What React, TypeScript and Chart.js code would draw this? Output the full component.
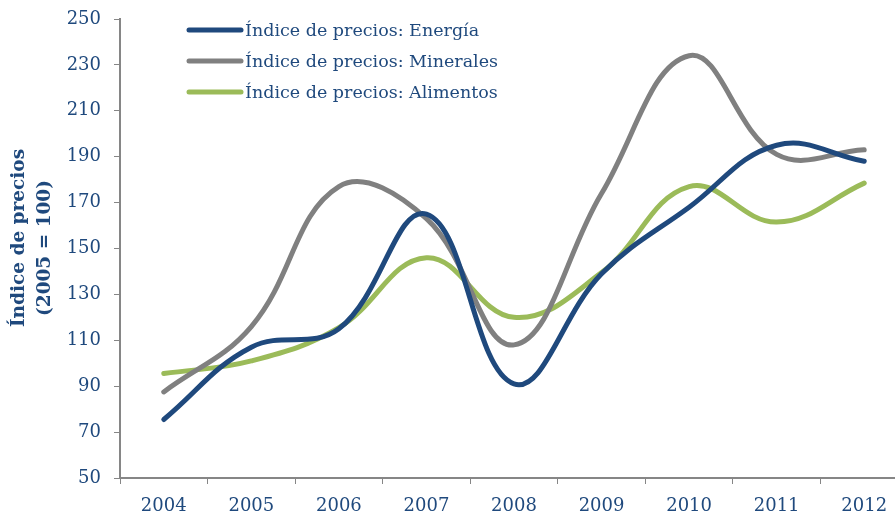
import React, { useEffect, useRef } from "react";
import { Chart, registerables } from "chart.js";

Chart.register(...registerables);

const years = ["2004", "2005", "2006", "2007", "2008", "2009", "2010", "2011", "2012"];
const energia = [75.5, 107, 115, 165, 91, 139, 168, 195, 188];
const minerales = [87.5, 116, 177, 163, 108, 174, 234, 191, 193];
const alimentos = [95.5, 101, 115.5, 146, 120, 139.5, 177, 161.5, 178.5];
const seriesLabels = [
  "Índice de precios: Energía",
  "Índice de precios: Minerales",
  "Índice de precios: Alimentos",
];
const yTitleLines = ["Índice de precios", "(2005 = 100)"];
const yMin = 50;
const yMax = 250;
const yStep = 20;

const TEXT = "#1F497D";
const AXIS = "#868686";
const FONT = "'DejaVu Serif', serif";
const COLORS = ["#1F497D", "#808080", "#9BBB59"];

const overlay = {
  id: "overlay",
  afterDraw(chart: any) {
    const ctx = chart.ctx;
    ctx.save();
    chart.data.datasets.forEach((ds: any, i: number) => {
      const y = 30 + i * 31;
      ctx.strokeStyle = ds.borderColor;
      ctx.lineWidth = 5;
      ctx.lineCap = "round";
      ctx.beginPath();
      ctx.moveTo(189, y);
      ctx.lineTo(241, y);
      ctx.stroke();
      ctx.fillStyle = TEXT;
      ctx.font = `17.5px ${FONT}`;
      ctx.textBaseline = "middle";
      ctx.textAlign = "left";
      ctx.fillText(ds.label, 245, y + 1);
    });
    ctx.rotate(-Math.PI / 2);
    ctx.font = `bold 18.5px ${FONT}`;
    ctx.textAlign = "center";
    ctx.textBaseline = "middle";
    ctx.fillStyle = TEXT;
    ctx.fillText(yTitleLines[0], -238, 19);
    ctx.fillText(yTitleLines[1], -248, 45);
    ctx.restore();
  },
};

export default function App() {
  const ref = useRef<HTMLCanvasElement | null>(null);
  useEffect(() => {
    if (!ref.current) return;
    const series = [energia, minerales, alimentos];
    const chart = new Chart(ref.current, {
      type: "line",
      data: {
        labels: years,
        datasets: series.map((d, i) => ({
          label: seriesLabels[i],
          data: d,
          borderColor: COLORS[i],
          backgroundColor: COLORS[i],
          borderWidth: 5,
          borderCapStyle: "round",
          pointRadius: 0,
          tension: 0.4,
          fill: false,
        })),
      },
      options: {
        responsive: false,
        animation: false,
        devicePixelRatio: 1,
        layout: { padding: { top: 19, right: 4, left: 0, bottom: 0 } },
        plugins: { legend: { display: false }, tooltip: { enabled: false } },
        scales: {
          x: {
            offset: true,
            afterFit: (s: any) => { s.height = 37; },
            grid: { offset: true, drawOnChartArea: false, drawTicks: true, tickLength: 6, color: AXIS, lineWidth: 1 },
            border: { display: true, color: AXIS, width: 2 },
            ticks: { color: TEXT, font: { family: FONT, size: 18 }, padding: 12, maxRotation: 0 },
          },
          y: {
            min: yMin,
            max: yMax,
            afterFit: (s: any) => { s.width = 120; s.paddingTop = 0; s.paddingBottom = 0; },
            grid: { drawOnChartArea: false, drawTicks: true, tickLength: 6, color: AXIS, lineWidth: 1 },
            border: { display: true, color: AXIS, width: 2 },
            ticks: { stepSize: yStep, color: TEXT, font: { family: FONT, size: 18 }, padding: 13 },
          },
        },
      },
      plugins: [overlay],
    } as any);
    return () => chart.destroy();
  }, []);
  return (
    <div style={{ position: "fixed", left: 0, top: 0, width: 895, height: 515, overflow: "hidden", background: "#fff" }}>
      <canvas ref={ref} width={912} height={515} style={{ display: "block" }} />
    </div>
  );
}
